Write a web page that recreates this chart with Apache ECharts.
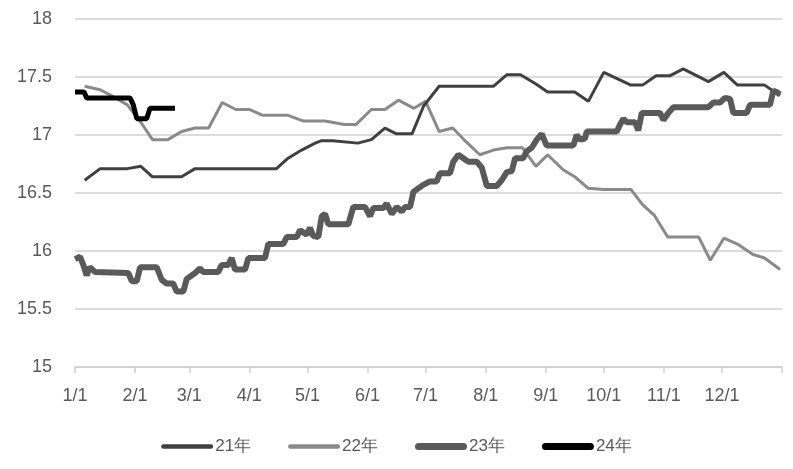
<!DOCTYPE html>
<html>
<head>
<meta charset="utf-8">
<script src="https://cdn.jsdelivr.net/npm/echarts@6/dist/echarts.min.js"></script>
<style>
html,body{margin:0;padding:0;background:#fff;}
#chart{width:793px;height:469px;}
</style>
</head>
<body>
<div id="chart"></div>
<script>
// Month-start day-of-year positions and tick labels
const monthDays = [0, 31, 59, 90, 120, 151, 181, 212, 243, 273, 304, 334];
const monthLabels = ['1/1','2/1','3/1','4/1','5/1','6/1','7/1','8/1','9/1','10/1','11/1','12/1'];
const seriesNames = ['21年', '22年', '23年', '24年'];

// 21年 (day of year, value)
const days21 = [5,13,27,34,40,55,62,104,110,117,124,127,133,146,153,160,166,174,180,188,216,223,230,238,244,258,265,273,287,293,300,307,314,327,335,342,356,364];
const vals21 = [16.61,16.71,16.71,16.73,16.64,16.64,16.71,16.71,16.80,16.87,16.93,16.95,16.95,16.93,16.96,17.06,17.01,17.01,17.25,17.42,17.42,17.52,17.52,17.44,17.37,17.37,17.29,17.54,17.43,17.43,17.51,17.51,17.57,17.46,17.54,17.43,17.43,17.34];

// 22年
const days22 = [5,13,21,27,34,40,48,55,62,69,76,83,90,97,110,118,129,139,145,153,160,167,175,181,188,195,202,209,216,223,231,238,244,252,258,265,273,287,293,299,306,322,328,335,342,350,356,364];
const vals22 = [17.42,17.39,17.32,17.26,17.11,16.96,16.96,17.03,17.06,17.06,17.28,17.22,17.22,17.17,17.17,17.12,17.12,17.09,17.09,17.22,17.22,17.30,17.23,17.29,17.03,17.06,16.94,16.83,16.87,16.89,16.89,16.73,16.83,16.70,16.64,16.54,16.53,16.53,16.40,16.31,16.12,16.12,15.92,16.11,16.06,15.97,15.94,15.84];

// 23年
const days23 = [0,2.6,4.3,6,7.7,10.3,27.5,29.3,31.9,33.6,42.2,44.8,47.3,50.7,52.5,55.9,57.7,62,64.5,66.2,74,75.7,79.1,80.9,82.6,87.8,89.5,98.1,99.8,107.5,109.3,114.5,116.2,119.6,121.3,123,125.6,127.4,129.1,130.8,141.1,143.7,149.7,152.3,154,159.2,160.9,163.5,166.1,168.7,170.4,173,174.7,177.2,179.8,183.3,186.7,188.4,193.6,195.3,197.9,200.5,203,207.4,210,212.6,217.7,220.3,222.9,225.5,227.2,231.4,233.2,235.8,238.4,240.9,243.5,257.3,259,260.7,263.3,264.2,279.7,281.4,283.1,284.8,289.1,290.8,292.6,302,303.8,306.3,308.9,327,329.6,333,335.6,338.2,339.9,346.8,348.5,358.8,360.5,362.2,364];
const vals23 = [15.93,15.95,15.88,15.79,15.86,15.82,15.81,15.74,15.74,15.86,15.86,15.75,15.72,15.72,15.65,15.65,15.76,15.81,15.85,15.82,15.82,15.88,15.88,15.94,15.84,15.84,15.94,15.94,16.06,16.06,16.12,16.12,16.18,16.14,16.20,16.13,16.12,16.30,16.32,16.23,16.23,16.38,16.38,16.30,16.37,16.37,16.41,16.32,16.38,16.34,16.38,16.38,16.51,16.54,16.57,16.60,16.60,16.67,16.67,16.77,16.83,16.80,16.77,16.77,16.72,16.56,16.56,16.61,16.68,16.69,16.80,16.80,16.86,16.89,16.96,17.01,16.91,16.91,17.00,16.96,16.97,17.03,17.03,17.09,17.14,17.11,17.11,17.04,17.19,17.19,17.13,17.19,17.24,17.24,17.28,17.28,17.32,17.31,17.19,17.19,17.26,17.26,17.38,17.37,17.35];

// 24年
const days24 = [0,4.7,6,28.4,30.1,31.9,37,38.7,51.6];
const vals24 = [17.37,17.37,17.32,17.32,17.26,17.14,17.14,17.23,17.23];

const pair = (d, v) => d.map((x, i) => [x, v[i]]);
const font = 'Liberation Sans Narrow, Liberation Sans, sans-serif';
const txt = '#595959';
const colors = ['#404040', '#8a8a8a', '#5a5a5a', '#000000'];
const widths = [3, 3, 6, 5];
const iconPath = (h) => 'path://M' + h/2 + ',0 L' + (52 - h/2) + ',0 A' + h/2 + ',' + h/2 + ' 0 0 1 ' + (52 - h/2) + ',' + h + ' L' + h/2 + ',' + h + ' A' + h/2 + ',' + h/2 + ' 0 0 1 ' + h/2 + ',0 Z';
const iconH = [4.5, 4.5, 7, 7];

const chart = echarts.init(document.getElementById('chart'), null, {renderer: 'canvas'});
chart.setOption({
  animation: false,
  backgroundColor: '#ffffff',
  grid: {left: 75, right: 11, top: 19, bottom: 102, containLabel: false},
  xAxis: {
    type: 'value', min: 0, max: 365,
    axisLine: {show: true, lineStyle: {color: '#d0d0d0', width: 1.5}},
    axisTick: {show: true, customValues: monthDays.concat([365]), length: 6, lineStyle: {color: '#d0d0d0', width: 1.5}},
    axisLabel: {
      customValues: monthDays,
      formatter: (v) => monthLabels[monthDays.indexOf(v)] || '',
      color: txt, fontSize: 18, fontFamily: font, margin: 20
    },
    splitLine: {show: false}
  },
  yAxis: {
    type: 'value', min: 15, max: 18, interval: 0.5,
    axisLine: {show: false}, axisTick: {show: false},
    axisLabel: {color: txt, fontSize: 18, fontFamily: font, margin: 23},
    splitLine: {lineStyle: {color: '#d0d0d0', width: 1.5}}
  },
  legend: {
    bottom: 9, left: 'center',
    itemWidth: 52, itemHeight: 14, itemGap: 37,
    symbolKeepAspect: true,
    textStyle: {color: txt, fontSize: 17, fontFamily: font, padding: [0,0,0,-3]},
    data: seriesNames.map((n, i) => ({name: n, icon: iconPath(iconH[i]), itemStyle: {color: colors[i]}}))
  },
  series: seriesNames.map((n, i) => ({
    name: n, type: 'line', showSymbol: false, symbol: 'none',
    data: [pair(days21, vals21), pair(days22, vals22), pair(days23, vals23), pair(days24, vals24)][i],
    lineStyle: {color: colors[i], width: widths[i]},
    itemStyle: {color: colors[i]},
    z: [3, 2, 4, 5][i]
  }))
});
</script>
</body>
</html>
